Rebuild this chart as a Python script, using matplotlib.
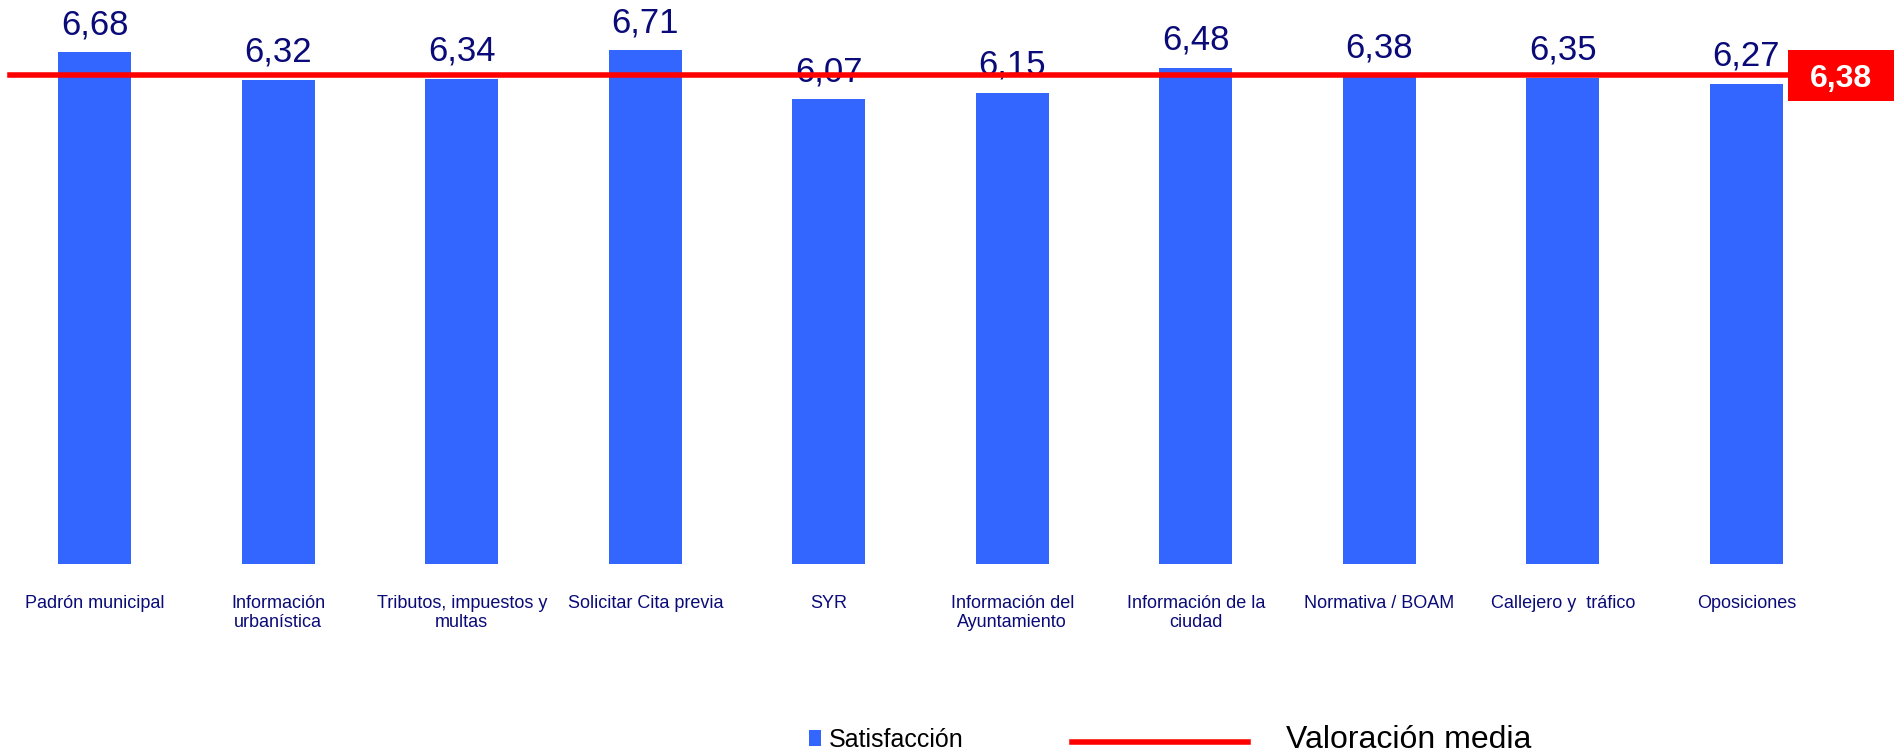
import matplotlib
matplotlib.use("Agg")
import matplotlib.pyplot as plt
from matplotlib.patches import Rectangle
from matplotlib.lines import Line2D
from matplotlib.transforms import blended_transform_factory

# Data
categories = [
    "Padrón municipal",
    "Información\nurbanística",
    "Tributos, impuestos y\nmultas",
    "Solicitar Cita previa",
    "SYR",
    "Información del\nAyuntamiento",
    "Información de la\nciudad",
    "Normativa / BOAM",
    "Callejero y  tráfico",
    "Oposiciones",
]
satisfaccion = [6.68, 6.32, 6.34, 6.71, 6.07, 6.15, 6.48, 6.38, 6.35, 6.27]
valoracion_media = 6.38

BAR_COLOR = "#3366FF"
LINE_COLOR = "#FF0000"
NAVY = "#0A0A78"

plt.rcParams["font.family"] = ["Liberation Sans", "DejaVu Sans"]

fig = plt.figure(figsize=(19.01, 7.54), dpi=100)
ax = fig.add_axes([3 / 1901, 190 / 754, 1835 / 1901, 559 / 754])

x = list(range(len(categories)))
ax.bar(x, satisfaccion, width=0.4, color=BAR_COLOR, zorder=2)

ax.set_xlim(-0.5, len(categories) - 0.5)
ax.set_ylim(0, 7.3)

for xi, v in zip(x, satisfaccion):
    ax.annotate(f"{v:.2f}".replace(".", ","), (xi, v), xytext=(0, 8),
                textcoords="offset points", ha="center", va="bottom",
                fontsize=25, color=NAVY, zorder=1)

# Average line with its value tag at the right end
ax.axhline(valoracion_media, xmin=0.004, xmax=0.973, color=LINE_COLOR,
           linewidth=4, zorder=3)
tag_tr = blended_transform_factory(fig.transFigure, ax.transData)
tag_w, tag_h = 106 / 1901, 51 / 76.6
ax.add_patch(Rectangle((1788 / 1901, valoracion_media - tag_h / 2), tag_w, tag_h,
                       transform=tag_tr, facecolor=LINE_COLOR,
                       edgecolor="none", clip_on=False, zorder=4))
ax.text(1841 / 1901, valoracion_media, f"{valoracion_media:.2f}".replace(".", ","),
        transform=tag_tr, ha="center", va="center_baseline",
        fontsize=23, fontweight="bold", color="white", clip_on=False,
        zorder=5)

ax.set_xticks(x)
ax.set_xticklabels(categories, fontsize=13, color=NAVY, linespacing=1.15,
                   va="top", ha="center")
ax.tick_params(axis="x", length=0, pad=22)
ax.set_yticks([])
for s in ax.spines.values():
    s.set_visible(False)

# Legend
fig.patches.append(Rectangle((809 / 1901, 1 - 746 / 754), 12 / 1901, 16 / 754,
                             transform=fig.transFigure, facecolor=BAR_COLOR,
                             edgecolor="none"))
fig.text(829 / 1901, 1 - 740 / 754, "Satisfacción", fontsize=18,
         color="black", va="center", ha="left")
fig.lines.append(Line2D([1072 / 1901, 1248 / 1901], [1 - 742 / 754, 1 - 742 / 754],
                        transform=fig.transFigure, color=LINE_COLOR,
                        linewidth=4))
fig.text(1286 / 1901, 1 - 740 / 754, "Valoración media", fontsize=23,
         color="black", va="center", ha="left")

fig.savefig("out.png", dpi=100)
